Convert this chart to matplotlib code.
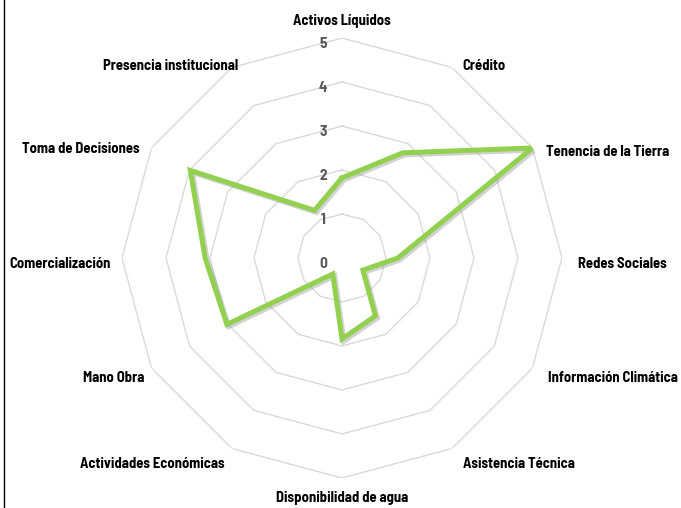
import numpy as np
import matplotlib
matplotlib.use('Agg')
import matplotlib.pyplot as plt
import matplotlib.patheffects as pe
from matplotlib.lines import Line2D

# ---- Data ----
categories = [
    'Activos Líquidos', 'Crédito', 'Tenencia de la Tierra', 'Redes Sociales',
    'Información Climática', 'Asistencia Técnica', 'Disponibilidad de agua',
    'Actividades Económicas', 'Mano Obra', 'Comercialización',
    'Toma de Decisiones', 'Presencia institucional',
]
values = [1.82, 2.76, 5.0, 1.27, 0.55, 1.52, 1.84, 0.42, 3.02, 3.11, 3.98, 1.25]
levels = [0, 1, 2, 3, 4, 5]

# label nudges in pixels (dx right, dy down), Excel-like placement
label_nudge = [(0, 1), (1, 14), (-2, 13), (-2, 6), (0, 1), (2, 0),
               (0, 2), (2, 0), (9, 1), (7, 6), (4, 10), (15, 14)]

LINE_COLOR = '#92D050'
GRID_COLOR = '#D9D9D9'
TICK_COLOR = '#595959'

plt.rcParams['font.family'] = ['Barlow Semi Condensed', 'DejaVu Sans']

n = len(categories)
angles = np.arange(n) * 2 * np.pi / n

fig = plt.figure(figsize=(6.81, 5.08), dpi=100)
ax = fig.add_axes([0.1791, 0.0591, 0.6461, 0.8661], projection='polar')
ax.set_theta_zero_location('N')
ax.set_theta_direction(-1)
ax.set_ylim(0, 5)
ax.set_xticks([])
ax.set_yticks([])
ax.grid(False)
ax.spines['polar'].set_visible(False)
ax.patch.set_alpha(0)

# polygon grid
closed = np.append(angles, angles[0])
for lv in levels[1:]:
    ax.plot(closed, [lv] * (n + 1), color=GRID_COLOR, linewidth=1.0, zorder=1)

# level labels
for lv in levels:
    ax.annotate(str(lv), xy=(0, lv), xytext=(-19, -6), textcoords='offset pixels',
                ha='center', va='center', fontsize=11, fontweight='bold',
                color=TICK_COLOR, zorder=3)

# data line
vals = values + values[:1]
ax.plot(closed, vals, color=LINE_COLOR, linewidth=3.6, solid_joinstyle='miter',
        zorder=4,
        path_effects=[pe.SimpleLineShadow(offset=(1.5, -1.5), shadow_color='gray', alpha=0.35),
                      pe.Normal()])

# category labels
label_r = 5.41
for ang, lab, (dx, dy) in zip(angles, categories, label_nudge):
    s = np.sin(ang)
    if abs(s) < 1e-6:
        ha = 'center'
    elif s > 0:
        ha = 'left'
    else:
        ha = 'right'
    ax.annotate(lab, xy=(ang, label_r), xytext=(dx, -dy), textcoords='offset pixels',
                ha=ha, va='center', fontsize=10.5, fontweight='bold',
                color='black', annotation_clip=False)

# left border line
fig.add_artist(Line2D([3.5 / 681, 3.5 / 681], [0, 1], color='black', linewidth=1.0))

fig.savefig('out.png', dpi=100)
